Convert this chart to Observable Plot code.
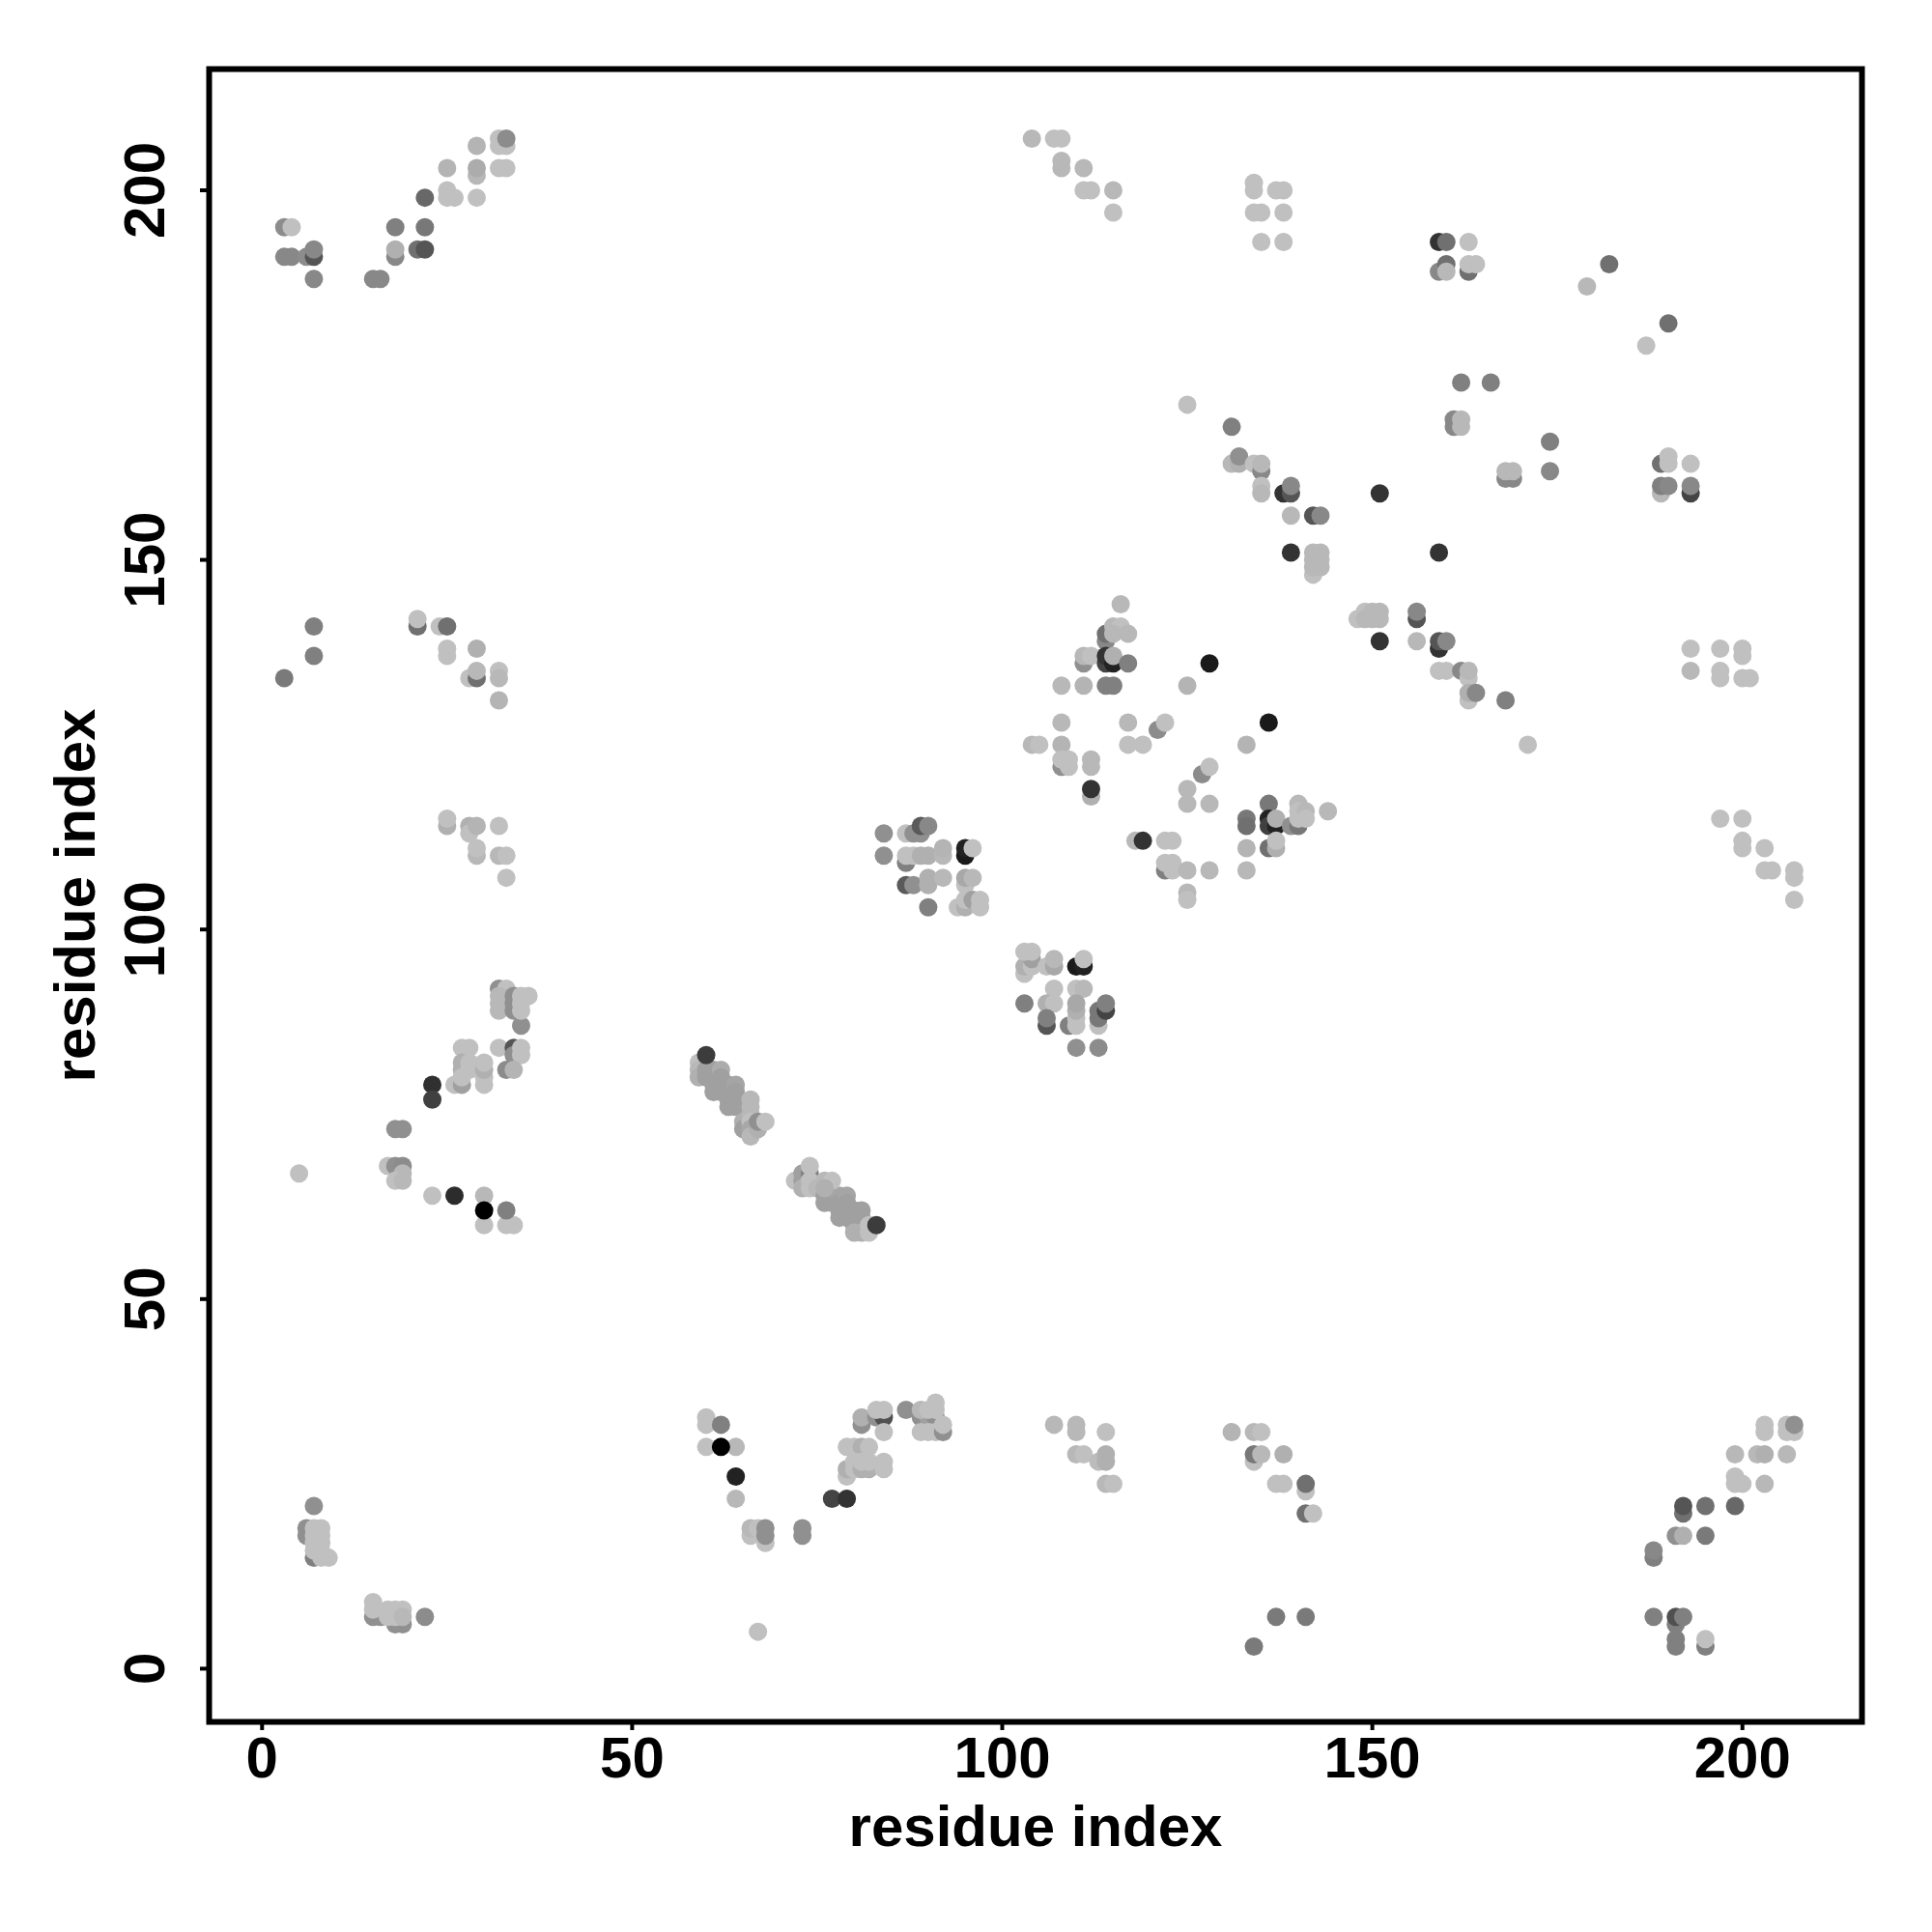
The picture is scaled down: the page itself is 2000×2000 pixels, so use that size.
<!DOCTYPE html>
<html><head><meta charset="utf-8">
<script src="https://cdn.jsdelivr.net/npm/d3@7"></script>
<script src="https://cdn.jsdelivr.net/npm/@observablehq/plot@0.6"></script>
<style>html,body{margin:0;padding:0;background:#fff}</style>
</head><body><div id="chart"></div>
<script>
// each contact: [residue i, residue j, shade level]
const topLeft = [[3,195,140],[4,195,192],[3,191,136],[4,191,136],[6,191,140],[7,191,85],[7,192,136],[7,188,136],[15,188,136],[16,188,136],[18,195,128],[18,191,136],[18,192,176],[21,192,112],[22,192,85],[22,195,120],[22,199,104],[25,203,180],[25,200,192],[25,199,192],[26,199,192],[29,199,192],[29,202,184],[29,203,172],[29,206,180],[32,203,192],[33,203,192],[32,207,192],[32,206,192],[33,206,192],[33,207,140]];
const leftMid = [[7,141,128],[7,137,128],[3,134,122],[21,141,112],[21,142,192],[24,141,192],[25,141,112],[25,138,192],[25,137,192],[29,138,176],[28,134,192],[29,134,112],[29,135,184],[32,135,192],[32,134,184],[32,131,180],[25,114,176],[25,115,192],[28,114,176],[28,113,192],[29,114,180],[32,114,192],[29,110,184],[29,111,192],[32,110,184],[33,110,192],[33,107,192]];
const leftLow = [[32,92,144],[33,92,192],[32,91,184],[32,90,184],[32,89,184],[34,91,144],[34,90,144],[34,89,144],[35,87,144],[35,91,192],[36,91,192],[35,90,192],[35,89,192],[32,84,192],[34,84,85],[34,83,144],[35,84,192],[35,83,192],[33,81,140],[34,81,180],[27,84,192],[28,84,192],[27,82,176],[27,81,176],[28,82,192],[28,81,192],[30,79,192],[30,80,192],[30,81,176],[30,82,192],[26,79,192],[27,79,160],[27,80,192],[23,79,48],[23,77,64],[18,73,144],[19,73,144],[17,68,192],[18,68,144],[19,68,140],[19,67,184],[18,66,192],[19,66,184],[5,67,192],[23,64,192],[26,64,44],[30,64,184],[30,60,192],[30,62,0],[33,60,192],[34,60,192],[33,62,128]];
const diagonalA = [[59,82,192],[59,81,184],[59,80,176],[60,81,160],[60,80,160],[61,81,160],[61,80,160],[61,79,160],[61,78,160],[62,81,172],[62,80,160],[62,79,160],[62,78,160],[63,79,160],[63,78,160],[63,77,160],[63,76,160],[64,79,165],[64,78,160],[64,77,160],[64,76,160],[65,74,176],[65,73,160],[66,77,184],[66,76,184],[66,75,184],[66,74,192],[66,73,168],[66,72,184],[67,73,176],[67,74,144],[68,74,192],[60,83,60]];
const diagonalB = [[72,66,192],[73,67,160],[73,66,160],[73,65,176],[74,67,128],[74,68,192],[74,66,192],[74,65,192],[75,65,184],[76,64,160],[76,63,160],[77,64,160],[77,63,160],[78,64,165],[78,63,160],[78,62,160],[78,61,160],[79,64,165],[79,63,160],[79,62,160],[79,61,160],[80,62,160],[80,61,160],[80,60,160],[81,62,160],[81,61,160],[81,60,160],[76,66,184],[77,66,192],[76,65,176],[80,59,176],[81,59,176],[82,59,192],[82,60,192],[83,60,60]];
const bottomLeft = [[7,22,144],[6,19,144],[6,18,144],[7,15,128],[7,19,192],[8,19,192],[7,18,192],[8,18,192],[7,17,192],[8,17,192],[7,16,192],[8,16,192],[8,15,192],[9,15,192],[15,7,144],[16,7,144],[15,8,192],[15,9,192],[18,6,144],[19,6,144],[17,8,192],[18,8,192],[19,8,192],[17,7,192],[18,7,192],[19,7,184],[22,7,140]];
const bottomMid = [[60,34,192],[60,33,192],[62,33,128],[60,30,192],[64,30,184],[62,30,0],[64,26,34],[64,23,184],[66,18,192],[66,19,184],[67,19,192],[68,17,192],[68,18,144],[68,19,144],[73,18,144],[73,19,144],[67,5,192],[77,23,68],[79,23,51],[79,30,192],[80,30,192],[81,30,176],[82,30,192],[79,26,192],[79,27,176],[80,27,192],[80,28,192],[81,27,176],[82,27,176],[81,28,192],[82,28,192],[84,28,192],[84,27,192],[81,33,144],[81,34,176],[83,34,144],[84,34,80],[83,35,192],[84,35,192],[84,32,192],[87,35,144],[89,34,144],[90,34,160],[91,34,144],[89,35,184],[90,35,192],[91,35,192],[91,36,192],[89,32,192],[90,32,192],[91,32,192],[92,32,144],[92,33,192]];
const blockA = [[84,113,144],[84,110,144],[87,113,192],[88,113,144],[89,113,144],[89,114,90],[90,114,136],[87,109,128],[87,110,192],[88,110,192],[89,110,176],[90,110,176],[92,110,184],[92,111,180],[87,106,90],[88,106,144],[90,106,176],[90,107,176],[92,107,184],[90,103,128],[95,110,26],[95,111,34],[96,111,192],[95,106,192],[95,107,168],[96,107,184],[94,103,192],[95,103,176],[95,104,192],[96,104,160],[97,104,192],[97,103,192]];
const blockB = [[103,94,192],[103,95,176],[104,95,192],[104,96,160],[103,97,192],[104,97,192],[106,95,192],[107,95,168],[107,96,184],[110,95,26],[111,95,34],[111,96,192],[107,92,192],[110,92,192],[111,92,184],[103,90,128],[106,90,176],[107,90,192],[109,87,128],[110,87,192],[110,88,192],[110,89,176],[110,90,168],[106,87,85],[106,88,128],[113,87,192],[113,88,120],[113,89,120],[114,89,68],[114,90,128],[110,84,144],[113,84,140]];
const blockC = [[116,144,184],[114,139,136],[114,140,112],[115,141,184],[116,141,192],[115,140,184],[117,140,184],[111,136,144],[111,137,184],[112,137,192],[114,136,68],[114,137,51],[115,136,34],[115,137,176],[117,136,128],[108,133,184],[111,133,180],[114,133,128],[115,133,128],[128,136,26],[125,133,180],[108,128,184],[117,128,184],[121,127,140],[122,128,192],[136,128,26],[104,125,184],[105,125,192],[108,125,180],[117,125,192],[119,125,192],[133,125,180],[108,122,144],[108,123,192],[109,123,192],[109,122,192],[112,123,184],[112,122,184],[112,118,176],[112,119,51],[127,121,140],[128,122,192],[125,119,184],[125,117,184],[128,117,184]];
const blockD = [[136,117,120],[133,115,120],[133,114,112],[136,115,34],[136,114,64],[137,114,34],[137,115,176],[139,114,144],[140,114,120],[140,117,184],[140,116,192],[140,115,192],[141,116,184],[141,115,192],[144,116,184],[118,112,184],[119,112,51],[122,112,192],[123,112,192],[122,108,128],[122,109,192],[123,109,192],[123,108,192],[125,108,184],[128,108,184],[133,108,184],[125,105,184],[125,104,192],[136,111,112],[137,111,176],[137,112,192],[133,111,180]];
const diagonalUpper = [[131,168,128],[131,163,184],[132,163,176],[132,164,144],[134,163,192],[135,162,136],[135,163,184],[135,160,192],[135,159,184],[138,159,51],[139,159,85],[139,160,136],[139,156,184],[142,156,85],[143,156,136],[139,151,51],[142,148,192],[143,149,184],[142,149,184],[142,150,184],[143,150,184],[142,151,184],[143,151,184],[151,159,51],[159,151,51],[161,169,136],[161,168,136],[162,169,184],[162,168,184],[174,166,128],[174,162,136],[168,161,136],[169,161,136],[168,162,184],[169,162,184],[162,174,128],[166,174,128],[148,142,192],[149,143,192],[150,143,184],[151,143,184],[149,142,184],[150,142,184],[151,142,184],[156,142,85],[156,143,136],[151,139,51],[156,139,184],[159,138,51],[159,139,85],[160,139,136],[159,135,192],[160,135,192],[162,135,136],[163,134,192],[163,135,184],[163,131,192],[163,132,176],[164,132,136],[168,131,128],[171,125,192],[125,171,192]];
const bottomRightMid = [[107,33,184],[110,33,184],[110,32,184],[114,32,192],[110,29,184],[111,29,192],[113,28,188],[114,29,176],[114,28,176],[114,25,184],[115,25,192],[131,32,180],[134,32,184],[135,32,192],[134,28,192],[134,29,120],[135,29,184],[138,29,176],[137,25,192],[138,25,192],[141,24,192],[141,25,112],[141,21,112],[142,21,192],[137,7,122],[141,7,122],[134,3,122]];
const bottomRight = [[203,33,192],[203,32,192],[206,33,192],[206,32,192],[207,32,192],[207,33,144],[199,29,184],[202,29,184],[203,29,176],[206,29,184],[199,26,192],[199,25,192],[200,25,192],[203,25,184],[192,21,112],[192,22,85],[195,22,112],[199,22,104],[191,18,144],[192,18,176],[195,18,122],[188,15,128],[188,16,136],[188,7,128],[191,6,128],[191,7,80],[192,7,128],[191,3,128],[191,4,128],[195,3,128],[195,4,192]];
const topRight = [[104,207,184],[107,207,192],[108,207,192],[108,203,184],[108,204,184],[111,203,184],[111,200,192],[112,200,192],[115,200,184],[115,197,192],[134,201,192],[134,200,192],[134,197,192],[135,197,192],[135,193,192],[137,200,192],[138,200,192],[138,197,192],[138,193,192],[159,193,51],[160,193,112],[163,193,192],[159,189,136],[160,190,112],[160,189,184],[163,189,112],[163,190,192],[164,190,192],[182,190,112],[179,187,184],[190,182,112],[187,179,192]];
const rightMid = [[189,163,112],[190,163,192],[190,164,192],[193,163,192],[189,159,184],[189,160,128],[190,160,136],[193,159,68],[193,160,136],[193,138,192],[193,135,184],[197,138,192],[197,135,192],[197,134,192],[200,138,192],[200,137,192],[200,134,192],[201,134,192],[197,115,192],[200,115,192],[200,112,192],[200,111,192],[203,111,192],[203,108,192],[204,108,192],[207,107,192],[207,108,192],[207,104,192]];
const xTicks = [0, 50, 100, 150, 200];
const yTicks = [0, 50, 100, 150, 200];
const axisTitle = "residue index";

const contacts = [topLeft, leftMid, leftLow, diagonalA, diagonalB, bottomLeft, bottomMid, blockA, blockB, blockC, blockD, diagonalUpper, bottomRightMid, bottomRight, topRight, rightMid]
  .flat().map(([i, j, shade]) => ({i, j, shade}));

const font = "'Liberation Sans', Arial, Helvetica, sans-serif";
const chart = Plot.plot({
  width: 2000, height: 2000,
  marginLeft: 216, marginRight: 73, marginTop: 71, marginBottom: 218,
  style: {fontFamily: font, fontWeight: "bold", background: "#fff"},
  x: {domain: [-7.15, 216.15]},
  y: {domain: [-7.2, 216.4]},
  color: {type: "linear", domain: [0, 192], range: ["#000000", "#c0c0c0"]},
  marks: [
    Plot.dot(contacts, {x: "i", y: "j", r: 9.5, fill: "shade", stroke: "none"}),
    Plot.frame({stroke: "#000", strokeWidth: 6}),
    Plot.axisX({ticks: xTicks, tickSize: 9, tickPadding: 6, strokeWidth: 4, fontSize: 60, label: axisTitle, labelAnchor: "center", labelArrow: "none", labelOffset: 128, tickFormat: d => String(d), color: "#000"}),
    Plot.axisY({ticks: yTicks, tickSize: 9, tickPadding: 38, strokeWidth: 4, fontSize: 60, tickRotate: -90, textAnchor: "middle", label: axisTitle, labelAnchor: "center", labelArrow: "none", labelOffset: 161, tickFormat: d => String(d), color: "#000"})
  ]
});
document.getElementById("chart").appendChild(chart);
</script></body></html>
